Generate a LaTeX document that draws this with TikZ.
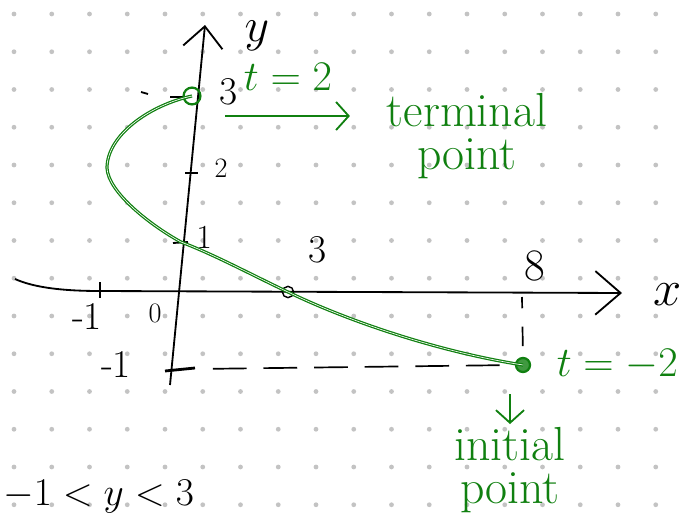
\RequirePackage{fix-cm}
\documentclass[tikz,border=0pt]{standalone}
\usetikzlibrary{arrows.meta, positioning}
\definecolor{inkgreen}{RGB}{16,128,16}
\definecolor{dotgray}{RGB}{195,195,195}

\begin{document}
\begin{tikzpicture}[
    x=0.025cm, y=-0.025cm,
    >=Latex,
    every node/.style={font=\fontsize{28}{30}\selectfont, inner sep=2pt},
    lbl/.style={text=black},
    glbl/.style={text=inkgreen, font=\fontsize{30}{26}\selectfont, align=center},
    gword/.style={glbl, font=\fontsize{34}{31}\selectfont},
    axis/.style={line width=1.3pt, -{Straight Barb[length=18pt, width=31pt]}},
    tick/.style={line width=1.3pt},
    dashline/.style={line width=1.2pt, dash pattern=on 24pt off 12pt},
    curve/.style={draw=inkgreen, line width=0.9pt, double=white, double distance=0.45pt},
    garrow/.style={draw=inkgreen, line width=1.3pt, -{Straight Barb[length=9pt, width=20pt]}},
    endpt/.style={circle, draw=inkgreen, line width=1.6pt, inner sep=0pt}
]

% Dot grid
\useasboundingbox (0,0) rectangle (692,514);
\foreach \i in {0,...,17}
    \foreach \j in {0,...,13}
        \fill[dotgray] (14+37.75*\i, 14+37.75*\j) circle (1.7pt);

% Axes
\coordinate (xleft) at (15,279);
\coordinate (xminus) at (100,291);
\coordinate (xend) at (622,293);
\coordinate (ybottom) at (170,385);
\coordinate (ytop) at (205,25);
\draw[axis] (xleft) .. controls (35,288) and (65,291) .. (xminus) -- (xend);
\draw[axis, -{Straight Barb[length=15pt, width=28pt]}] (ybottom) -- (ytop);

% Ticks
\draw[tick] (100,282) -- (100,298);
\draw[tick] (170,97) -- (184,97);
\draw[tick] (141,92) -- (148,94);
\draw[tick] (185,173) -- (198,173);
\draw[tick] (173,243) -- (188,242);
\draw[tick, line width=2pt] (165,371) -- (195,368);

% Points
\node[endpt, minimum size=12pt] (terminal) at (192,96) {};
\node[endpt, minimum size=10pt, fill=inkgreen!80] (initial) at (523,365) {};
\node[circle, draw, line width=1pt, minimum size=8pt, inner sep=0pt] (xcross) at (288,292) {};
\coordinate (ycross) at (181,242);
\coordinate (xeight) at (522,297);
\coordinate (yminus) at (196,369);

% Curve
\draw[curve] (initial.center) .. controls (440,352) and (350,322) .. (xcross.center)
    .. controls (248,273) and (215,255) .. (ycross)
    .. controls (150,225) and (108,192) .. (107,168)
    .. controls (107,135) and (150,105) .. (terminal.center);

% Dashed guides
\draw[dashline, dash pattern=on 8pt off 13pt on 14pt off 20pt] (xeight) -- (initial.north);
\draw[dashline, dash phase=24pt] (yminus) -- (initial.west);

% Labels
\node[lbl, font=\fontsize{34}{34}\selectfont] (ylabel) at (257,36) {$y$};
\node[lbl, font=\fontsize{36}{36}\selectfont] (xlabel) at (668,295) {$x$};
\node[lbl] (ythree) at (229,92) {3};
\node[lbl, font=\fontsize{20}{22}\selectfont] (ytwo) at (221,168) {2};
\node[lbl, font=\fontsize{24}{26}\selectfont] (yone) at (204,237) {1};
\node[lbl] (yminuslabel) at (116,364) {-1};
\node[lbl] (xminuslabel) at (87,316) {-1};
\node[lbl, font=\fontsize{20}{22}\selectfont] (origin) at (155,313) {0};
\node[lbl] (xthree) at (318,250) {3};
\node[lbl, font=\fontsize{32}{32}\selectfont] (xeightlabel) at (535,266) {8};
\node[lbl, anchor=east] (range) at (197,497) {$-1<y<3$};

\node[glbl] (tplus) at (288,77) {$t=2$};
\node[glbl, right=16pt of initial] (tminus) {$t=-2$};
\node[gword] (termtext) at (467,136) {terminal\\point};
\node[gword, anchor=north] (inittext) at (510,424) {initial\\point};

% Arrows
\coordinate (termarrow) at (225,116);
\draw[garrow, shorten >=24pt] (termarrow) -- (termarrow -| termtext.west);
\draw[garrow, shorten <=15pt] (inittext.north |- initial.south) -- (inittext.north);

\end{tikzpicture}
\end{document}
